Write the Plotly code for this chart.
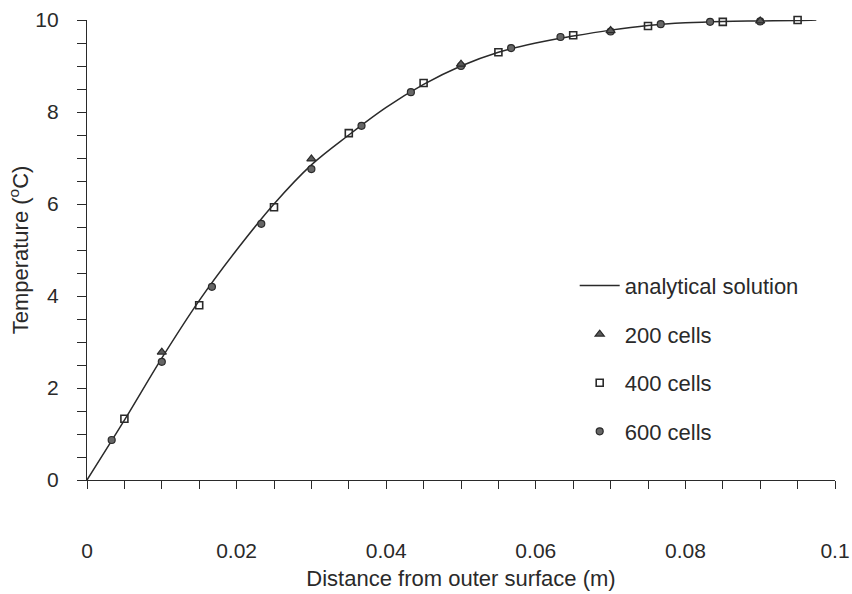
import plotly.graph_objects as go

# analytical solution
ana_x = [0, 0.005, 0.01, 0.015, 0.02, 0.025, 0.03, 0.035, 0.04, 0.045, 0.05,
         0.055, 0.06, 0.065, 0.07, 0.075, 0.08, 0.085, 0.09, 0.095, 0.0975]
ana_y = [0, 1.3, 2.65, 3.9, 5.0, 6.0, 6.85, 7.5, 8.1, 8.6, 9.0,
         9.3, 9.5, 9.65, 9.78, 9.88, 9.94, 9.97, 9.98, 9.99, 10.0]

c200_x = [0.01, 0.03, 0.05, 0.07, 0.09]
c200_y = [2.78, 6.98, 9.04, 9.77, 9.98]

c400_x = [0.005, 0.015, 0.025, 0.035, 0.045, 0.055, 0.065, 0.075, 0.085, 0.095]
c400_y = [1.33, 3.80, 5.93, 7.54, 8.63, 9.30, 9.67, 9.87, 9.96, 10.0]

c600_x = [0.0033, 0.01, 0.0167, 0.0233, 0.03, 0.0367, 0.0433, 0.05, 0.0567,
          0.0633, 0.07, 0.0767, 0.0833, 0.09, 0.0967]
c600_y = [0.87, 2.57, 4.2, 5.57, 6.76, 7.7, 8.43, 9.0, 9.39,
          9.63, 9.75, 9.91, 9.96, 9.97, 10.02]

ink = "#2a2a2a"
font = "Liberation Sans, Arial, sans-serif"

fig = go.Figure()
fig.add_trace(go.Scatter(x=ana_x, y=ana_y, mode="lines", name="analytical solution",
                         line=dict(color=ink, width=1.5, shape="spline"),
                         legendgroup="a", legendrank=1, cliponaxis=False))
fig.add_trace(go.Scatter(x=c600_x, y=c600_y, mode="markers", name="600 cells",
                         marker=dict(symbol="circle", size=7, color="#666666",
                                     line=dict(color=ink, width=1.2)),
                         legendgroup="d", legendrank=4, cliponaxis=False))
fig.add_trace(go.Scatter(x=c400_x, y=c400_y, mode="markers", name="400 cells",
                         marker=dict(symbol="square-open", size=7, color=ink,
                                     line=dict(color=ink, width=1.6)),
                         legendgroup="c", legendrank=3, cliponaxis=False))
fig.add_trace(go.Scatter(x=c200_x, y=c200_y, mode="markers", name="200 cells",
                         marker=dict(symbol="triangle-up", size=8, color="#5a5a5a",
                                     line=dict(color=ink, width=1.2)),
                         legendgroup="b", legendrank=2, cliponaxis=False))

fig.update_layout(
    width=852, height=594,
    margin=dict(l=87, r=17, t=20, b=114),
    paper_bgcolor="white", plot_bgcolor="white",
    font=dict(family=font, size=21, color=ink),
    showlegend=True,
    legend=dict(x=0.652, y=0.468, xanchor="left", yanchor="top",
                bgcolor="rgba(0,0,0,0)", font=dict(size=22, color=ink),
                traceorder="grouped", tracegroupgap=17, itemwidth=40),
    xaxis=dict(range=[0, 0.1], dtick=0.02, tick0=0, showgrid=False, zeroline=False,
               showline=True, linecolor=ink, linewidth=1.3, automargin=False,
               ticks="outside", ticklen=8, tickcolor=ink, tickwidth=1.2,
               ticklabelstandoff=44, tickfont=dict(size=21),
               minor=dict(dtick=0.005, ticks="outside", ticklen=8, tickcolor=ink,
                          tickwidth=1.2, showgrid=False),
               title=dict(text="Distance from outer surface (m)", standoff=9,
                          font=dict(size=22))),
    yaxis=dict(range=[0, 10], dtick=2, tick0=0, showgrid=False, zeroline=False,
               showline=True, linecolor=ink, linewidth=1.3, automargin=False,
               ticks="outside", ticklen=9, tickcolor=ink, tickwidth=1.2,
               ticklabelstandoff=14, tickfont=dict(size=21),
               minor=dict(dtick=0.5, ticks="outside", ticklen=9, tickcolor=ink,
                          tickwidth=1.2, showgrid=False),
               title=dict(text="Temperature (<sup>o</sup>C)", standoff=0,
                          font=dict(size=22))),
)

fig.write_html("out.html")
